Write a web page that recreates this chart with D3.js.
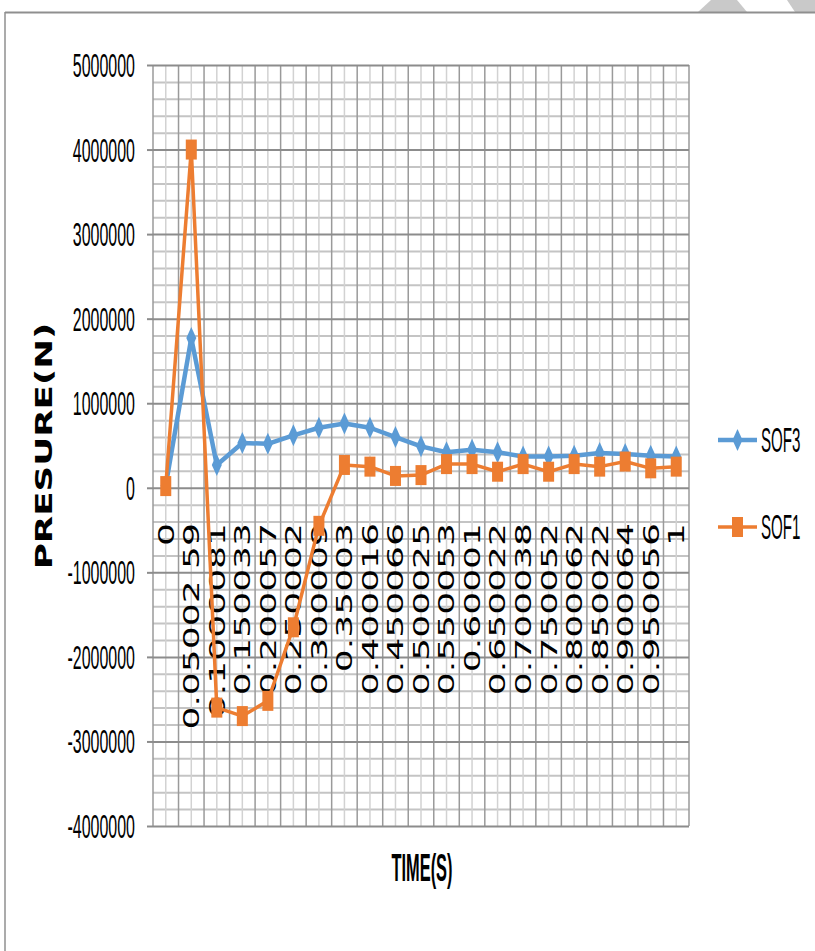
<!DOCTYPE html>
<html>
<head>
<meta charset="utf-8">
<script src="https://cdn.jsdelivr.net/npm/d3@7/dist/d3.min.js"></script>
<style>
  html, body { margin: 0; padding: 0; background: #fff; }
  svg { display: block; }
</style>
</head>
<body>
<svg id="chart" width="815" height="951"></svg>
<script>
// Time steps (category axis labels)
const timeLabels = ["0", "0.05002 59", "0.1000081", "0.150033", "0.200057", "0.250002",
  "0.300009", "0.35003", "0.400016", "0.450066", "0.500025", "0.550053", "0.60001",
  "0.650022", "0.700038", "0.750052", "0.800062", "0.850022", "0.900064", "0.950056", "1"];

// Pressure series (N)
const sof3 = [30000, 1770000, 270000, 530000, 520000, 620000, 710000, 760000, 710000,
  600000, 490000, 420000, 450000, 420000, 370000, 370000, 380000, 410000, 400000, 380000, 370000];
const sof1 = [20000, 4000000, -2600000, -2700000, -2520000, -1650000, -450000, 270000, 250000,
  140000, 150000, 280000, 280000, 190000, 280000, 190000, 280000, 250000, 310000, 230000, 250000];

const seriesNames = ["SOF3", "SOF1"];

// Value axis ticks
const yTickValues = [-4000000, -3000000, -2000000, -1000000, 0, 1000000, 2000000, 3000000, 4000000, 5000000];
const yTickLabels = ["-4000000", "-3000000", "-2000000", "-1000000", "0", "1000000", "2000000", "3000000", "4000000", "5000000"];
const yMinorStep = 200000;

const axisTitleY = "PRESURE(N)";
const axisTitleX = "TIME(S)";

// ---- layout ----
const plot = { left: 153, right: 689, top: 65, bottom: 826 };
const colors = { sof3: "#5B9BD5", sof1: "#ED7D31" };

const svg = d3.select("#chart");

// page frame and corner shapes
svg.append("polygon").attr("points", "711,0 737,0 747,12 698,12").attr("fill", "#c9c9c9");
svg.append("polygon").attr("points", "787,0 815,0 815,12 795,12").attr("fill", "#c9c9c9");
svg.append("line").attr("x1", 5).attr("x2", 815).attr("y1", 12.5).attr("y2", 12.5)
  .attr("stroke", "#8f8f8f").attr("stroke-width", 2);
svg.append("line").attr("x1", 5).attr("x2", 5).attr("y1", 12).attr("y2", 951)
  .attr("stroke", "#8f8f8f").attr("stroke-width", 1.5);

const x = d3.scaleBand().domain(timeLabels).range([plot.left, plot.right]).padding(0);
const bw = x.bandwidth();
const cx = (d) => x(d) + bw / 2;

const y = d3.scaleLinear().domain([yTickValues[0], yTickValues[yTickValues.length - 1]])
  .range([plot.bottom, plot.top]);

const minorValues = d3.range(yTickValues[0], yTickValues[yTickValues.length - 1] + 1, yMinorStep)
  .filter(v => !yTickValues.includes(v));

const width = plot.right - plot.left;

// minor horizontal gridlines
svg.append("g")
  .attr("transform", `translate(${plot.left},0)`)
  .call(d3.axisLeft(y).tickValues(minorValues).tickSize(-width).tickFormat(""))
  .call(g => g.select(".domain").remove())
  .call(g => g.selectAll("line").attr("stroke", "#c4c4c4").attr("stroke-width", 2));

// minor vertical gridlines (category centres)
svg.append("g").selectAll("line").data(timeLabels).join("line")
  .attr("x1", d => cx(d)).attr("x2", d => cx(d))
  .attr("y1", plot.top).attr("y2", plot.bottom)
  .attr("stroke", "#d2d2d2").attr("stroke-width", 1.5);

// major vertical gridlines (category boundaries)
const edges = timeLabels.map(d => x(d)).concat([plot.right]);
svg.append("g").selectAll("line").data(edges).join("line")
  .attr("x1", d => d).attr("x2", d => d)
  .attr("y1", plot.top).attr("y2", plot.bottom)
  .attr("stroke", "#9a9a9a").attr("stroke-width", 1.5);

// major horizontal gridlines
svg.append("g")
  .attr("transform", `translate(${plot.left},0)`)
  .call(d3.axisLeft(y).tickValues(yTickValues).tickSize(-width).tickFormat(""))
  .call(g => g.select(".domain").remove())
  .call(g => g.selectAll("line").attr("stroke", "#8c8c8c").attr("stroke-width", 2));

// value axis: outside ticks + labels
svg.append("g")
  .attr("transform", `translate(${plot.left},0)`)
  .call(d3.axisLeft(y).tickValues(yTickValues).tickSize(6).tickSizeOuter(0)
    .tickFormat((d, i) => yTickLabels[i]))
  .call(g => g.select(".domain").remove())
  .call(g => g.selectAll("line").attr("stroke", "#8c8c8c").attr("stroke-width", 2))
  .call(g => g.selectAll("text")
    .attr("x", null).attr("dy", null)
    .attr("transform", "translate(-18,0) scale(0.47,1)")
    .attr("dominant-baseline", "central")
    .attr("text-anchor", "end")
    .attr("fill", "#000")
    .style("font-family", "'Liberation Sans', Arial, sans-serif")
    .style("font-size", "34px"));

// category labels, rotated
svg.append("g").selectAll("text").data(timeLabels).join("text")
  .attr("transform", d => `translate(${cx(d)},523) rotate(-90) scale(1.64,1)`)
  .attr("text-anchor", "end")
  .attr("dy", "0.36em")
  .attr("fill", "#000")
  .style("font-family", "'DejaVu Sans', Verdana, sans-serif")
  .style("font-size", "22px")
  .text(d => d);

// axis titles
svg.append("text")
  .attr("transform", "translate(44,446) rotate(-90) scale(1.55,1)")
  .attr("text-anchor", "middle")
  .attr("dy", "0.36em")
  .attr("fill", "#000")
  .style("font-family", "'DejaVu Sans', Verdana, sans-serif")
  .style("font-weight", "bold")
  .style("font-size", "23px")
  .text(axisTitleY);

svg.append("text")
  .attr("transform", "translate(422,881) scale(0.42,1)")
  .attr("text-anchor", "middle")
  .attr("fill", "#000")
  .style("font-family", "'Liberation Sans', Arial, sans-serif")
  .style("font-weight", "bold")
  .style("font-size", "39px")
  .text(axisTitleX);

// series
const line = d3.line()
  .x((d, i) => cx(timeLabels[i]))
  .y(d => y(d));

const diamond = "M0,-11 L5,0 L0,11 L-5,0 Z";

function drawSeries(values, color, marker) {
  const g = svg.append("g");
  g.append("path").datum(values)
    .attr("d", line)
    .attr("fill", "none")
    .attr("stroke", color)
    .attr("stroke-width", marker === "diamond" ? 4.5 : 3.5)
    .attr("stroke-linejoin", "round");
  const pts = g.selectAll(".pt").data(values).join("g")
    .attr("transform", (d, i) => `translate(${cx(timeLabels[i])},${y(d)})`);
  if (marker === "diamond") {
    pts.append("path").attr("d", diamond).attr("fill", color);
  } else {
    pts.append("rect").attr("x", -5.5).attr("y", -10).attr("width", 11).attr("height", 20)
      .attr("fill", color);
  }
}

drawSeries(sof3, colors.sof3, "diamond");
drawSeries(sof1, colors.sof1, "square");

// legend
const legendItems = [
  { name: seriesNames[0], color: colors.sof3, marker: "diamond", y: 440 },
  { name: seriesNames[1], color: colors.sof1, marker: "square", y: 527 }
];
const lg = svg.append("g").selectAll("g").data(legendItems).join("g")
  .attr("transform", d => `translate(0,${d.y})`);
lg.append("line").attr("x1", 718).attr("x2", 757).attr("y1", 0).attr("y2", 0)
  .attr("stroke", d => d.color).attr("stroke-width", d => d.marker === "diamond" ? 4.5 : 3.5);
lg.filter(d => d.marker === "diamond").append("path")
  .attr("transform", "translate(737.5,0)").attr("d", diamond).attr("fill", d => d.color);
lg.filter(d => d.marker === "square").append("rect")
  .attr("x", 732).attr("y", -10).attr("width", 11).attr("height", 20).attr("fill", d => d.color);
lg.append("text")
  .attr("transform", "translate(761,0) scale(0.42,1)")
  .attr("dominant-baseline", "central")
  .attr("fill", "#000")
  .style("font-family", "'Liberation Sans', Arial, sans-serif")
  .style("font-size", "36px")
  .text(d => d.name);
</script>
</body>
</html>
